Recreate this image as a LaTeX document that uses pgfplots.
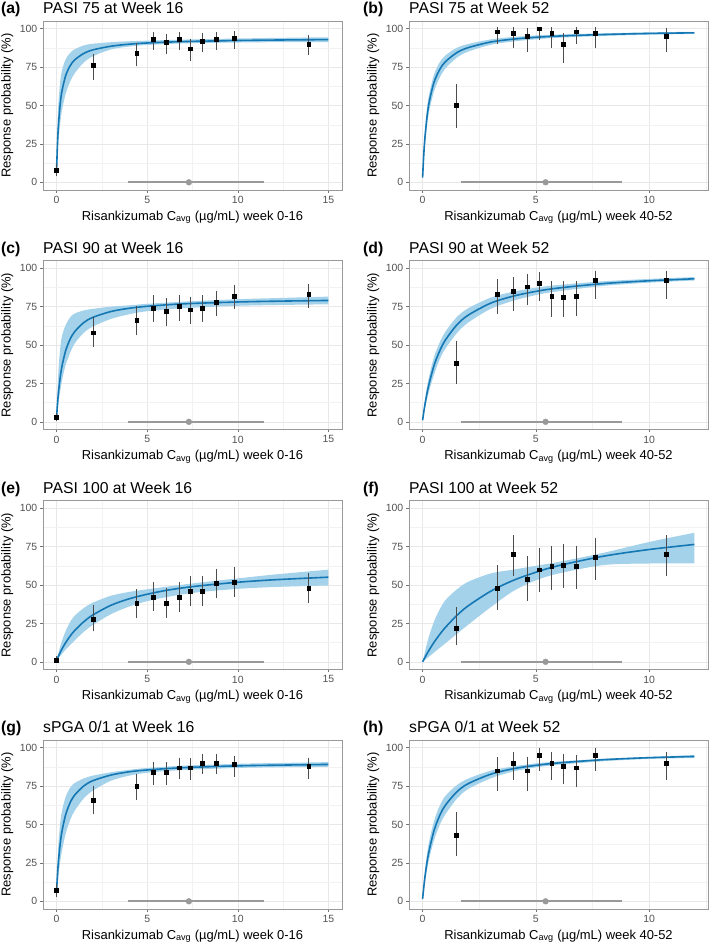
\documentclass[border=0pt]{standalone}
\usepackage{fontspec}
\setmainfont{Liberation Sans}
\usepackage{pgfplots}
\usepgfplotslibrary{fillbetween}
\usepackage{pgfplotstable}
\pgfplotsset{compat=1.18}
\definecolor{lineblue}{HTML}{1577B3}
\definecolor{bandblue}{HTML}{A3D2EA}
\newcommand\titlefont{\fontsize{15.8}{18}\selectfont}
\newcommand\labfont{\fontsize{13}{15}\selectfont}

\pgfplotstableread[row sep=\\]{
x lo mid hi\\
0 7 8 9\\ 0.05 18.6 25.2 36.8\\ 0.1 26.8 36.7 51.3\\ 0.2 38.7 51 65.7\\
0.3 47 59.6 72.9\\ 0.5 57.7 69.4 80.1\\ 0.75 65.6 75.9 84.3\\ 1 71 79.7 86.6\\
1.5 78 83.9 89.1\\ 2 82 86.2 90.2\\ 3 86.5 88.6 91.2\\ 4 88.4 89.9 91.8\\
5 89.4 90.7 92.2\\ 7 90.4 91.6 92.9\\ 10 91.0 92.3 93.6\\ 12 91.2 92.6 94.0\\ 15 91.3 92.9 94.4\\
}\curveA
\pgfplotstableread[row sep=\\]{
x lo mid hi\\
0 2 3 4\\ 0.05 7 11.7 20\\ 0.1 12 18.6 33\\ 0.2 20 29 48\\ 0.3 27 36.4 56\\
0.5 37 46.3 63\\ 0.75 45 53.9 68\\ 1 51 58.7 70.5\\ 1.5 58 64.6 72.5\\ 2 62 68 73.5\\
3 67 71.8 75\\ 4 70 73.9 75.8\\ 5 72 75.2 76.8\\ 7 74 76.8 78.2\\ 10 75.5 78 79.8\\
12 76 78.5 80.5\\ 15 76.5 79 81.5\\
}\curveC
\pgfplotstableread[row sep=\\]{
x lo mid hi\\
0 1 1 1\\ 0.25 4.5 7.3 12\\ 0.5 8 12.5 20\\ 0.75 11 16.8 26\\ 1 14 20.4 30\\
1.5 19.5 26.1 35\\ 2 24 30.5 38.5\\ 3 31 36.8 43\\ 4 36 41 45.5\\ 5 39.5 44 47.2\\
6 42 46.4 48.8\\ 7 44 48.2 50.3\\ 8 45.5 49.6 51.7\\ 10 47.5 51.8 54.3\\
12 48.7 53.4 56.8\\ 15 49.7 55.1 60\\
}\curveE
\pgfplotstableread[row sep=\\]{
x lo mid hi\\
0 6 7 8\\ 0.05 11 17.5 25\\ 0.1 16 25.7 37\\ 0.2 26 37.5 51\\ 0.3 33 45.8 59\\
0.5 44 56.4 68\\ 0.75 53 64.3 74\\ 1 59 69.2 77\\ 1.5 67 75.1 80\\ 2 72 78.5 81.8\\
3 78.5 82.2 84\\ 4 81.8 84.3 85.6\\ 5 83.7 85.5 86.8\\ 7 85.5 87 88.3\\
10 86.8 88.2 89.5\\ 12 87.2 88.6 90\\ 15 87.5 89.1 90.6\\
}\curveG
\pgfplotstableread[row sep=\\]{
x lo mid hi\\
0 2.5 3 3.5\\ 0.05 14 17.6 21\\ 0.1 24 28.4 33\\ 0.2 37.5 43.2 49\\ 0.3 47 52.9 58\\
0.5 59 64.9 70\\ 0.75 68 73.3 78\\ 1 74 78.4 82.5\\ 1.5 81 84.3 87.5\\ 2 85 87.6 90\\
3 89.5 91.3 93\\ 4 91.7 93.2 94.6\\ 5 93.1 94.4 95.6\\ 6 94.1 95.2 96.2\\
8 95.3 96.2 97\\ 10 96.1 96.9 97.6\\ 12 96.6 97.3 98\\
}\curveB
\pgfplotstableread[row sep=\\]{
x lo mid hi\\
0 0.8 1 1.2\\ 0.1 8.5 10.9 13.5\\ 0.25 18 22.5 27\\ 0.5 30.5 36.4 42\\ 0.75 40.5 46 51.5\\
1 47.5 53.1 58.5\\ 1.5 57.5 62.9 68\\ 2 64.5 69.3 73.8\\ 3 73.5 77.2 80.8\\ 4 78.8 81.8 84.7\\
5 82.5 84.9 87.3\\ 6 85 87.1 89.1\\ 8 88.5 90 91.5\\ 10 90.6 91.8 93\\ 12 92 93.1 94.2\\
}\curveD
\pgfplotstableread[row sep=\\]{
x lo mid hi\\
0 0 0 0\\ 0.25 3 6.7 15\\ 0.5 6 12.6 26\\ 0.75 9 17.7 34\\ 1 12 22.3 40\\
1.5 18 30 47\\ 2 24 36.3 52\\ 3 35.5 45.9 57.5\\ 4 46 53 60\\ 5 53 58.3 62.5\\
6 57.5 62.6 65\\ 8 63 68.8 71\\ 10 64 73.1 78\\ 12 64 76.4 84\\
}\curveF
\pgfplotstableread[row sep=\\]{
x lo mid hi\\
0 1.3 1.5 1.7\\ 0.1 12 15.4 19\\ 0.25 25 30.2 36\\ 0.5 39.5 45.8 52\\ 0.75 49.5 55.7 62\\
1 56.5 62.4 68.5\\ 1.5 66.5 71.1 75.5\\ 2 73 76.5 79.8\\ 3 80 82.7 85\\ 4 84.5 86.3 87.8\\
5 87.2 88.5 89.8\\ 6 88.9 90.1 91\\ 8 91.2 92.2 92.8\\ 10 92.7 93.5 94\\ 12 93.3 94.3 95.2\\
}\curveH

\pgfplotstableread[row sep=\\]{
x y lo hi\\
0 8 5 11\\ 2.0 76 68 82.5\\ 4.42 84 76.7 89.8\\ 5.31 93 87.5 96.8\\ 6.06 91 84.7 95.2\\
6.76 93 87.5 96.8\\ 7.39 87 80 92.2\\ 8.03 92 85.7 95.9\\ 8.79 93 87.5 96.8\\
9.80 94 88 97.2\\ 13.91 90 84.2 94.6\\
}\ptsA
\pgfplotstableread[row sep=\\]{
x y lo hi\\
0 3 1.5 4.5\\ 2.0 58 50 67\\ 4.42 66 58 74\\ 5.31 74 66 81.2\\ 6.06 72 63.5 79.5\\
6.76 75 66.7 81.6\\ 7.39 73 64.6 80.1\\ 8.03 74 66 81.2\\ 8.79 78 69.8 84.2\\
9.80 82 74.5 88.1\\ 13.91 83 75.2 88.6\\
}\ptsC
\pgfplotstableread[row sep=\\]{
x y lo hi\\
0 1.3 0.5 2.5\\ 2.0 28 21 35.9\\ 4.42 38 29.8 46.2\\ 5.31 42 34.1 51\\ 6.06 38 30 46.7\\
6.76 42 33.9 50.5\\ 7.39 46 37.6 54.6\\ 8.03 46 37.6 54.6\\ 8.79 51 42.5 59.4\\
9.80 52 43.4 60.3\\ 13.91 48 39.3 56.4\\
}\ptsE
\pgfplotstableread[row sep=\\]{
x y lo hi\\
0 7 3.9 9.9\\ 2.0 66 57.7 73.9\\ 4.42 75 67 81.9\\ 5.31 84 76.7 89.6\\ 6.06 84 76.7 89.6\\
6.76 87 80.6 92.4\\ 7.39 87 80 92\\ 8.03 90 84.2 94.4\\ 8.79 90 84.2 94.4\\
9.80 89 82.3 93.5\\ 13.91 88 81 92.4\\
}\ptsG
\pgfplotstableread[row sep=\\]{
x y lo hi\\
1.47 50 36.7 63\\ 3.28 98 91 100\\ 3.99 97 88.3 99.6\\ 4.61 95 85.7 99.1\\
5.15 100 93.7 100\\ 5.70 97 88.3 99.6\\ 6.20 90 79 96\\ 6.79 98 91.4 99.6\\
7.61 97 88.3 99.6\\ 10.75 95 86.2 99.1\\
}\ptsB
\pgfplotstableread[row sep=\\]{
x y lo hi\\
1.47 38 26.1 51.6\\ 3.28 83 71.5 91.8\\ 3.99 85 73.2 92.9\\ 4.61 88 77.1 95\\
5.15 90 79.7 96.3\\ 5.70 82 69.5 90.3\\ 6.20 81 69.1 90.3\\ 6.79 82 69.8 90.5\\
7.61 92 81.4 97.2\\ 10.75 92 81.4 97.2\\
}\ptsD
\pgfplotstableread[row sep=\\]{
x y lo hi\\
1.47 22 12.1 34.3\\ 3.28 48 35.2 61.8\\ 3.99 70 56.8 81.2\\ 4.61 54 40.8 67.4\\
5.15 60 46.7 72.6\\ 5.70 62 48.2 73.9\\ 6.20 63 49.2 75.2\\ 6.79 62 48.8 74.3\\
7.61 68 54.2 79.7\\ 10.75 70 56.8 81.2\\
}\ptsF
\pgfplotstableread[row sep=\\]{
x y lo hi\\
1.47 43 30.7 56.8\\ 3.28 85 73.2 92.9\\ 3.99 90 79.9 96.3\\ 4.61 85 72.8 92.9\\
5.15 95 86 98.9\\ 5.70 90 79.9 96.3\\ 6.20 88 77.3 95\\ 6.79 87 75.6 94.2\\
7.61 95 86 98.9\\ 10.75 90 79.9 96.3\\
}\ptsH

\pgfplotsset{
  panel/.style={
    scale only axis, width=299bp, height=169bp,
    ymin=-5, ymax=105, ytick={0,25,50,75,100}, minor ytick={12.5,37.5,62.5,87.5},
    grid=both,
    major grid style={color=black!9, line width=0.5pt},
    minor grid style={color=black!5, line width=0.3pt},
    axis line style={black!40, line width=0.6pt},
    tick align=outside, tick pos=left,
    major tick length=2.75bp, minor tick length=0pt,
    tick style={black!55, line width=0.5pt},
    tick label style={font=\fontsize{10.5}{11}\selectfont, text=black!68},
    yticklabel style={xshift=0.5bp},
    /pgf/number format/assume math mode=true,
  },
  leftp/.style={xmin=-0.75, xmax=15.75, xtick={0,5,10,15}, minor xtick={2.5,7.5,12.5}},
  rightp/.style={xmin=-0.6, xmax=12.6, xtick={0,5,10}, minor xtick={2.5,7.5,12.5}},
  bandfill/.style={fill=bandblue, draw=none},
  fitline/.style={lineblue, line width=1.6pt, smooth},
  obs/.style={only marks, mark=square*, mark size=1.9bp, black,
    error bars/.cd, y dir=both, y explicit,
    error bar style={black!70, line width=0.6pt},
    error mark options={black!70, line width=0.6pt, mark size=1.8bp}},
  rangebar/.style={black!40, line width=2.2pt},
  rangedot/.style={only marks, mark=*, mark size=2.9bp, black!40},
}

\begin{document}
\begin{tikzpicture}
\path (0bp,0bp) rectangle (709bp,-946bp);

% (a)
\begin{axis}[panel, leftp, at={(43bp,-21bp)}, anchor=north west]
  \addplot[draw=none, name path=aup, smooth] table[x=x, y=hi] {\curveA};
  \addplot[draw=none, name path=alo, smooth] table[x=x, y=lo] {\curveA};
  \addplot[bandfill] fill between[of=aup and alo];
  \addplot[fitline] table[x=x, y=mid] {\curveA};
  \addplot[obs] table[x=x, y=y, y error plus expr=\thisrow{hi}-\thisrow{y}, y error minus expr=\thisrow{y}-\thisrow{lo}] {\ptsA};
  \addplot[rangebar] coordinates {(3.96,0) (11.42,0)};
  \addplot[rangedot] coordinates {(7.30,0)};
\end{axis}
% (b)
\begin{axis}[panel, rightp, at={(409bp,-21bp)}, anchor=north west]
  \addplot[draw=none, name path=bup, smooth] table[x=x, y=hi] {\curveB};
  \addplot[draw=none, name path=blo, smooth] table[x=x, y=lo] {\curveB};
  \addplot[bandfill] fill between[of=bup and blo];
  \addplot[fitline] table[x=x, y=mid] {\curveB};
  \addplot[obs] table[x=x, y=y, y error plus expr=\thisrow{hi}-\thisrow{y}, y error minus expr=\thisrow{y}-\thisrow{lo}] {\ptsB};
  \addplot[rangebar] coordinates {(1.69,0) (8.81,0)};
  \addplot[rangedot] coordinates {(5.43,0)};
\end{axis}
% (c)
\begin{axis}[panel, leftp, at={(43bp,-260.5bp)}, anchor=north west]
  \addplot[draw=none, name path=cup, smooth] table[x=x, y=hi] {\curveC};
  \addplot[draw=none, name path=clo, smooth] table[x=x, y=lo] {\curveC};
  \addplot[bandfill] fill between[of=cup and clo];
  \addplot[fitline] table[x=x, y=mid] {\curveC};
  \addplot[obs] table[x=x, y=y, y error plus expr=\thisrow{hi}-\thisrow{y}, y error minus expr=\thisrow{y}-\thisrow{lo}] {\ptsC};
  \addplot[rangebar] coordinates {(3.96,0) (11.42,0)};
  \addplot[rangedot] coordinates {(7.30,0)};
\end{axis}
% (d)
\begin{axis}[panel, rightp, at={(409bp,-260.5bp)}, anchor=north west]
  \addplot[draw=none, name path=dup, smooth] table[x=x, y=hi] {\curveD};
  \addplot[draw=none, name path=dlo, smooth] table[x=x, y=lo] {\curveD};
  \addplot[bandfill] fill between[of=dup and dlo];
  \addplot[fitline] table[x=x, y=mid] {\curveD};
  \addplot[obs] table[x=x, y=y, y error plus expr=\thisrow{hi}-\thisrow{y}, y error minus expr=\thisrow{y}-\thisrow{lo}] {\ptsD};
  \addplot[rangebar] coordinates {(1.69,0) (8.81,0)};
  \addplot[rangedot] coordinates {(5.43,0)};
\end{axis}
% (e)
\begin{axis}[panel, leftp, at={(43bp,-500.5bp)}, anchor=north west]
  \addplot[draw=none, name path=eup, smooth] table[x=x, y=hi] {\curveE};
  \addplot[draw=none, name path=elo, smooth] table[x=x, y=lo] {\curveE};
  \addplot[bandfill] fill between[of=eup and elo];
  \addplot[fitline] table[x=x, y=mid] {\curveE};
  \addplot[obs] table[x=x, y=y, y error plus expr=\thisrow{hi}-\thisrow{y}, y error minus expr=\thisrow{y}-\thisrow{lo}] {\ptsE};
  \addplot[rangebar] coordinates {(3.96,0) (11.42,0)};
  \addplot[rangedot] coordinates {(7.30,0)};
\end{axis}
% (f)
\begin{axis}[panel, rightp, at={(409bp,-500.5bp)}, anchor=north west]
  \addplot[draw=none, name path=fup, smooth] table[x=x, y=hi] {\curveF};
  \addplot[draw=none, name path=flo, smooth] table[x=x, y=lo] {\curveF};
  \addplot[bandfill] fill between[of=fup and flo];
  \addplot[fitline] table[x=x, y=mid] {\curveF};
  \addplot[obs] table[x=x, y=y, y error plus expr=\thisrow{hi}-\thisrow{y}, y error minus expr=\thisrow{y}-\thisrow{lo}] {\ptsF};
  \addplot[rangebar] coordinates {(1.69,0) (8.81,0)};
  \addplot[rangedot] coordinates {(5.43,0)};
\end{axis}
% (g)
\begin{axis}[panel, leftp, at={(43bp,-740bp)}, anchor=north west]
  \addplot[draw=none, name path=gup, smooth] table[x=x, y=hi] {\curveG};
  \addplot[draw=none, name path=glo, smooth] table[x=x, y=lo] {\curveG};
  \addplot[bandfill] fill between[of=gup and glo];
  \addplot[fitline] table[x=x, y=mid] {\curveG};
  \addplot[obs] table[x=x, y=y, y error plus expr=\thisrow{hi}-\thisrow{y}, y error minus expr=\thisrow{y}-\thisrow{lo}] {\ptsG};
  \addplot[rangebar] coordinates {(3.96,0) (11.42,0)};
  \addplot[rangedot] coordinates {(7.30,0)};
\end{axis}
% (h)
\begin{axis}[panel, rightp, at={(409bp,-740bp)}, anchor=north west]
  \addplot[draw=none, name path=hup, smooth] table[x=x, y=hi] {\curveH};
  \addplot[draw=none, name path=hlo, smooth] table[x=x, y=lo] {\curveH};
  \addplot[bandfill] fill between[of=hup and hlo];
  \addplot[fitline] table[x=x, y=mid] {\curveH};
  \addplot[obs] table[x=x, y=y, y error plus expr=\thisrow{hi}-\thisrow{y}, y error minus expr=\thisrow{y}-\thisrow{lo}] {\ptsH};
  \addplot[rangebar] coordinates {(1.69,0) (8.81,0)};
  \addplot[rangedot] coordinates {(5.43,0)};
\end{axis}

% titles and labels
\foreach \top/\ll/\lt/\rl/\rt in {21/(a)/PASI 75 at Week 16/(b)/PASI 75 at Week 52,
  260.5/(c)/PASI 90 at Week 16/(d)/PASI 90 at Week 52,
  500.5/(e)/PASI 100 at Week 16/(f)/PASI 100 at Week 52,
  740/(g)/sPGA 0\slash 1 at Week 16/(h)/sPGA 0\slash 1 at Week 52}{
  \node[anchor=base west, font=\titlefont\bfseries, inner sep=0] at (1bp,-\top bp+7.5bp) {\ll};
  \node[anchor=base west, font=\titlefont, inner sep=0] at (43bp,-\top bp+7.5bp) {\lt};
  \node[anchor=base west, font=\titlefont\bfseries, inner sep=0] at (363bp,-\top bp+7.5bp) {\rl};
  \node[anchor=base west, font=\titlefont, inner sep=0] at (409bp,-\top bp+7.5bp) {\rt};
  \node[anchor=base, font=\labfont, inner sep=0] at (192.5bp,-\top bp-199bp) {Risankizumab C\textsubscript{avg} (µg/mL) week 0-16};
  \node[anchor=base, font=\labfont, inner sep=0] at (558.5bp,-\top bp-199bp) {Risankizumab C\textsubscript{avg} (µg/mL) week 40-52};
  \node[anchor=base, rotate=90, font=\labfont, inner sep=0] at (10.5bp,-\top bp-84.5bp) {Response probability (\%)};
  \node[anchor=base, rotate=90, font=\labfont, inner sep=0] at (376.5bp,-\top bp-84.5bp) {Response probability (\%)};
}
\end{tikzpicture}
\end{document}
